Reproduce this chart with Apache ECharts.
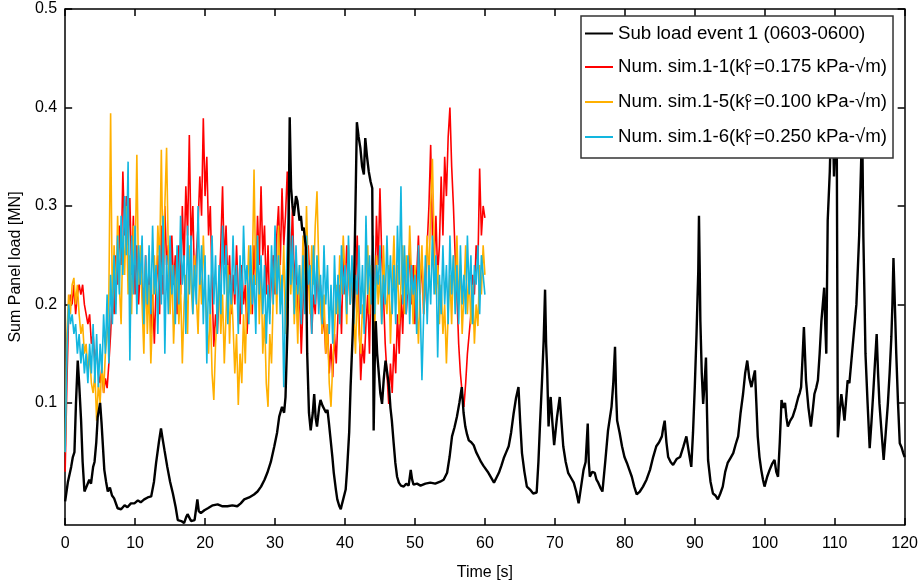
<!DOCTYPE html>
<html>
<head>
<meta charset="utf-8">
<title>Sum Panel load</title>
<script src="https://cdn.jsdelivr.net/npm/echarts@6.0.0/dist/echarts.min.js"></script>
<style>
  html, body { margin: 0; padding: 0; background: #fff; }
  #chart { width: 921px; height: 586px; }
</style>
</head>
<body>
<div id="chart"></div>
<script>
// measured sub load, time [s]
var loadTime = [
  0, 0.4, 0.86, 1.1, 1.33, 1.55, 1.8, 2.0, 2.28, 2.5, 2.76, 3.0, 3.2, 3.45, 3.7, 4.0, 4.2, 4.45, 4.66, 5.0,
  5.2, 5.6, 5.85, 6.1, 6.4, 6.7, 7.0, 7.5, 8.0, 8.5, 8.9, 9.4, 9.9, 10.4, 10.8, 11.3, 11.8, 12.3, 12.7, 13.0,
  13.4, 13.7, 13.9, 14.2, 14.6, 15.0, 15.4, 15.8, 16.1, 16.6, 17.0, 17.3, 17.5, 18.0, 18.5, 18.9, 19.1, 19.4, 19.9, 20.4,
  21.1, 21.8, 22.5, 23.2, 23.9, 24.6, 25.1, 25.6, 26.3, 27.0, 27.5, 28.0, 28.5, 28.9, 29.4, 29.9, 30.3, 30.6, 31.0, 31.3,
  31.5, 31.8, 32.1, 32.3, 32.5, 32.7, 33.0, 33.2, 33.5, 33.7, 33.9, 34.1, 34.4, 34.6, 34.85, 35.1, 35.4, 35.6, 35.8, 36.0,
  36.3, 36.5, 36.8, 37.0, 37.3, 37.5, 37.7, 37.9, 38.2, 38.4, 38.7, 38.9, 39.2, 39.4, 39.6, 39.8, 40.1, 40.3, 40.6, 40.8,
  41.1, 41.3, 41.5, 41.7, 41.95, 42.2, 42.45, 42.7, 42.9, 43.15, 43.4, 43.65, 43.9, 44.1, 44.25, 44.4, 44.6, 44.8, 45.05, 45.3,
  45.55, 45.8, 46.05, 46.3, 46.5, 46.7, 46.95, 47.2, 47.45, 47.7, 48.0, 48.4, 48.75, 49.1, 49.4, 49.6, 49.8, 50.3, 50.8, 51.5,
  52.2, 52.9, 53.6, 54.1, 54.6, 54.95, 55.3, 55.65, 56.0, 56.35, 56.7, 56.95, 57.2, 57.45, 57.7, 58.05, 58.4, 58.75, 59.1, 59.45,
  59.8, 60.5, 61.3, 61.65, 62.0, 62.35, 62.7, 63.05, 63.4, 63.75, 64.1, 64.45, 64.8, 65.05, 65.3, 65.65, 66.0, 66.45, 66.9, 67.4,
  67.65, 67.9, 68.15, 68.4, 68.6, 68.75, 68.9, 69.1, 69.25, 69.4, 69.65, 69.9, 70.3, 70.7, 70.95, 71.2, 71.55, 71.9, 72.3, 72.7,
  73.05, 73.4, 73.75, 74.1, 74.4, 74.7, 74.85, 75.0, 75.35, 75.7, 75.95, 76.2, 76.5, 76.8, 77.2, 77.6, 78.1, 78.35, 78.6, 78.75,
  78.9, 79.25, 79.6, 79.95, 80.3, 80.65, 81.0, 81.35, 81.7, 82.15, 82.6, 83.1, 83.6, 84.05, 84.5, 84.9, 85.3, 85.5, 85.7, 85.95,
  86.2, 86.55, 86.9, 87.4, 87.9, 88.35, 88.8, 89.15, 89.5, 89.75, 90.0, 90.25, 90.5, 90.6, 90.7, 90.8, 91.0, 91.2, 91.4, 91.6,
  91.75, 91.9, 92.25, 92.6, 92.95, 93.3, 93.65, 94.0, 94.35, 94.7, 95.1, 95.5, 95.85, 96.2, 96.55, 96.9, 97.2, 97.5, 97.8, 98.1,
  98.35, 98.6, 98.8, 99.0, 99.25, 99.5, 99.75, 99.97, 100.35, 100.7, 101.05, 101.4, 101.65, 101.9, 102.15, 102.4, 102.65, 102.9, 103.1, 103.3,
  103.65, 104.0, 104.4, 104.8, 105.0, 105.2, 105.4, 105.6, 105.75, 105.9, 106.25, 106.6, 106.85, 107.1, 107.35, 107.6, 107.85, 108.1, 108.3, 108.5,
  108.65, 108.8, 109.0, 109.3, 109.5, 109.7, 109.9, 110.1, 110.3, 110.45, 110.7, 110.95, 111.2, 111.4, 111.6, 111.85, 112.1, 112.6, 113.1, 113.5,
  113.8, 113.95, 114.1, 114.25, 114.4, 114.7, 115.0, 115.25, 115.5, 115.75, 116.0, 116.2, 116.4, 116.7, 117.0, 117.3, 117.6, 117.85, 118.1, 118.25,
  118.4, 118.6, 118.8, 119.05, 119.3, 119.55, 119.8, 120.0
];
// measured sub load [MN]
var loadValue = [
  0.0, 0.02, 0.035, 0.045, 0.05, 0.1, 0.143, 0.12, 0.082, 0.04, 0.01, 0.014, 0.012, 0.022, 0.018, 0.035, 0.04, 0.06, 0.086, 0.1,
  0.08, 0.032, 0.02, 0.01, 0.014, 0.006, 0.003, -0.007, -0.008, -0.004, -0.006, -0.002, -0.002, 0.001, -0.001, 0.002, 0.004, 0.005, 0.02, 0.039,
  0.06, 0.074, 0.065, 0.052, 0.035, 0.02, 0.008, -0.006, -0.019, -0.02, -0.022, -0.016, -0.013, -0.02, -0.019, 0.002, -0.01, -0.012, -0.009, -0.007,
  -0.004, -0.003, -0.005, -0.005, -0.004, -0.005, -0.002, 0.002, 0.004, 0.007, 0.01, 0.015, 0.022, 0.029, 0.04, 0.056, 0.07, 0.086, 0.096, 0.09,
  0.106, 0.18, 0.39, 0.318, 0.30, 0.29, 0.31, 0.305, 0.285, 0.29, 0.275, 0.278, 0.258, 0.15, 0.09, 0.072, 0.09, 0.109, 0.085, 0.076,
  0.095, 0.103, 0.097, 0.099, 0.09, 0.093, 0.08, 0.066, 0.045, 0.029, 0.012, 0.002, -0.005, -0.008, -0.002, -0.003, 0.012, 0.032, 0.07, 0.116,
  0.17, 0.217, 0.3, 0.385, 0.37, 0.359, 0.34, 0.332, 0.369, 0.35, 0.335, 0.325, 0.318, 0.072, 0.14, 0.183, 0.15, 0.133, 0.11, 0.099,
  0.125, 0.143, 0.13, 0.116, 0.095, 0.082, 0.06, 0.039, 0.025, 0.019, 0.016, 0.015, 0.018, 0.016, 0.032, 0.022, 0.017, 0.018, 0.016, 0.018,
  0.019, 0.018, 0.02, 0.022, 0.029, 0.045, 0.066, 0.075, 0.086, 0.1, 0.116, 0.09, 0.076, 0.068, 0.062, 0.06, 0.057, 0.05, 0.045, 0.04,
  0.036, 0.029, 0.019, 0.024, 0.029, 0.036, 0.044, 0.05, 0.056, 0.07, 0.089, 0.105, 0.116, 0.08, 0.049, 0.03, 0.015, 0.012, 0.008, 0.009,
  0.04, 0.082, 0.12, 0.163, 0.215, 0.16, 0.133, 0.076, 0.095, 0.106, 0.08, 0.057, 0.085, 0.106, 0.08, 0.056, 0.04, 0.029, 0.024, 0.019,
  0.01, -0.002, 0.015, 0.032, 0.04, 0.079, 0.04, 0.025, 0.03, 0.029, 0.022, 0.019, 0.014, 0.01, 0.04, 0.072, 0.096, 0.12, 0.157, 0.11,
  0.082, 0.07, 0.056, 0.045, 0.039, 0.032, 0.025, 0.015, 0.007, 0.01, 0.015, 0.022, 0.032, 0.045, 0.056, 0.06, 0.066, 0.075, 0.082, 0.06,
  0.045, 0.04, 0.037, 0.043, 0.045, 0.055, 0.066, 0.05, 0.035, 0.07, 0.116, 0.17, 0.234, 0.29, 0.24, 0.183, 0.13, 0.099, 0.12, 0.146,
  0.09, 0.042, 0.02, 0.008, 0.006, 0.002, 0.008, 0.015, 0.03, 0.039, 0.044, 0.049, 0.058, 0.066, 0.09, 0.109, 0.13, 0.143, 0.125, 0.116,
  0.125, 0.133, 0.1, 0.066, 0.045, 0.032, 0.022, 0.015, 0.025, 0.032, 0.038, 0.042, 0.03, 0.025, 0.06, 0.103, 0.095, 0.1, 0.085, 0.076,
  0.082, 0.086, 0.095, 0.106, 0.11, 0.116, 0.145, 0.177, 0.15, 0.123, 0.095, 0.076, 0.092, 0.109, 0.115, 0.123, 0.15, 0.183, 0.2, 0.217,
  0.18, 0.15, 0.285, 0.335, 0.39, 0.40, 0.33, 0.37, 0.36, 0.065, 0.09, 0.109, 0.095, 0.082, 0.1, 0.123, 0.12, 0.16, 0.2, 0.27,
  0.35, 0.37, 0.268, 0.21, 0.15, 0.1, 0.054, 0.08, 0.109, 0.14, 0.17, 0.13, 0.099, 0.07, 0.042, 0.07, 0.099, 0.13, 0.167, 0.2,
  0.247, 0.2, 0.15, 0.1, 0.059, 0.055, 0.049, 0.045
];

// simulations, one value every 0.25 s from 0 to 60 s [MN]
var simStep = 0.25;
var sim11 = [
  0.03, 0.12, 0.19, 0.21,  0.20, 0.22, 0.19, 0.21,  0.22, 0.21, 0.22, 0.20,  0.20, 0.18, 0.19, 0.16,
  0.17, 0.14, 0.155, 0.13,  0.12, 0.135, 0.11, 0.125,  0.115, 0.14, 0.17, 0.21,  0.19, 0.25, 0.22, 0.28,
  0.24, 0.335, 0.27, 0.31,  0.26, 0.308, 0.23, 0.29,  0.21, 0.26, 0.20, 0.24,  0.22, 0.18, 0.25, 0.19,
  0.23, 0.17, 0.21, 0.16,  0.22, 0.25, 0.19, 0.28,  0.21, 0.30, 0.24, 0.26,  0.20, 0.27, 0.22, 0.25,
  0.19, 0.26, 0.21, 0.30,  0.24, 0.32, 0.27, 0.372,  0.26, 0.30, 0.22, 0.25,  0.28, 0.33, 0.29, 0.389,
  0.31, 0.35, 0.27, 0.30,  0.22, 0.157, 0.19, 0.17,  0.21, 0.26, 0.32, 0.24,  0.28, 0.22, 0.25, 0.19,
  0.23, 0.20, 0.26, 0.21,  0.18, 0.24, 0.20, 0.22,  0.17, 0.21, 0.24, 0.19,  0.26, 0.22, 0.29, 0.24,
  0.32, 0.25, 0.28, 0.21,  0.26, 0.19, 0.23, 0.25,  0.21, 0.27, 0.30, 0.24,  0.318, 0.26, 0.29, 0.335,
  0.28, 0.24, 0.30, 0.22,  0.25, 0.18, 0.22, 0.15,  0.20, 0.24, 0.19, 0.26,  0.22, 0.17, 0.21, 0.19,
  0.24, 0.20, 0.22, 0.17,  0.19, 0.15, 0.18, 0.13,  0.16, 0.126, 0.17, 0.14,  0.19, 0.22, 0.17, 0.25,
  0.21, 0.26, 0.23, 0.20,  0.24, 0.18, 0.22, 0.27,  0.19, 0.123, 0.16, 0.14,  0.18, 0.21, 0.15, 0.23,
  0.26, 0.20, 0.29, 0.24,  0.318, 0.25, 0.21, 0.16,  0.13, 0.099, 0.14, 0.11,  0.16, 0.13, 0.19, 0.15,
  0.21, 0.17, 0.23, 0.19,  0.22, 0.26, 0.20, 0.24,  0.18, 0.23, 0.27, 0.21,  0.25, 0.19, 0.22, 0.26,
  0.30, 0.362, 0.27, 0.24,  0.29, 0.23, 0.26, 0.33,  0.27, 0.35, 0.31, 0.37,  0.40, 0.34, 0.30, 0.25,
  0.21, 0.16, 0.13, 0.11,  0.096, 0.12, 0.15, 0.17,  0.19, 0.23, 0.21, 0.26,  0.24, 0.338, 0.27, 0.30,
  0.288
];
var sim15 = [
  0.05, 0.17, 0.21, 0.19,  0.22, 0.227, 0.20, 0.22,  0.19, 0.17, 0.18, 0.15,  0.16, 0.13, 0.15, 0.12,
  0.11, 0.13, 0.082, 0.12,  0.10, 0.14, 0.11, 0.15,  0.17, 0.21, 0.394, 0.19,  0.26, 0.20, 0.29, 0.22,
  0.18, 0.27, 0.23, 0.30,  0.21, 0.25, 0.19, 0.28,  0.24, 0.352, 0.22, 0.26,  0.20, 0.15, 0.24, 0.17,
  0.22, 0.14, 0.19, 0.25,  0.21, 0.28, 0.24, 0.357,  0.23, 0.30, 0.359, 0.25,  0.19, 0.24, 0.16, 0.21,
  0.25, 0.18, 0.22, 0.14,  0.20, 0.23, 0.17, 0.26,  0.22, 0.19, 0.25, 0.21,  0.17, 0.24, 0.20, 0.27,
  0.22, 0.18, 0.15, 0.20,  0.13, 0.103, 0.16, 0.19,  0.23, 0.17, 0.21, 0.14,  0.19, 0.24, 0.16, 0.22,
  0.18, 0.13, 0.17, 0.098,  0.15, 0.12, 0.19, 0.14,  0.21, 0.26, 0.19, 0.23,  0.337, 0.22, 0.27, 0.18,
  0.24, 0.15, 0.19, 0.12,  0.096, 0.17, 0.14, 0.21,  0.25, 0.19, 0.28, 0.22,  0.20, 0.26, 0.17, 0.23,
  0.29, 0.21, 0.25, 0.18,  0.22, 0.16, 0.24, 0.19,  0.27, 0.21, 0.30, 0.23,  0.19, 0.26, 0.22, 0.28,
  0.315, 0.24, 0.20, 0.17,  0.21, 0.15, 0.18, 0.12,  0.096, 0.14, 0.17, 0.22,  0.19, 0.25, 0.21, 0.27,
  0.23, 0.18, 0.26, 0.20,  0.24, 0.19, 0.15, 0.22,  0.17, 0.15, 0.20, 0.18,  0.23, 0.26, 0.19, 0.24,
  0.21, 0.17, 0.25, 0.20,  0.23, 0.18, 0.26, 0.21,  0.19, 0.24, 0.16, 0.22,  0.27, 0.20, 0.24, 0.18,
  0.22, 0.26, 0.19, 0.25,  0.21, 0.28, 0.23, 0.18,  0.24, 0.20, 0.16, 0.22,  0.26, 0.19, 0.23, 0.27,
  0.22, 0.30, 0.348, 0.26,  0.21, 0.24, 0.18, 0.22,  0.17, 0.20, 0.14, 0.19,  0.23, 0.18, 0.25, 0.21,
  0.27, 0.20, 0.24, 0.17,  0.21, 0.26, 0.19, 0.23,  0.18, 0.22, 0.16, 0.20,  0.178, 0.24, 0.21, 0.26,
  0.23
];
var sim16 = [
  0.05, 0.15, 0.20, 0.18,  0.19, 0.17, 0.18, 0.15,  0.17, 0.14, 0.16, 0.13,  0.15, 0.12, 0.16, 0.13,
  0.18, 0.12, 0.17, 0.116,  0.16, 0.13, 0.19, 0.15,  0.21, 0.14, 0.23, 0.18,  0.25, 0.19, 0.27, 0.21,
  0.29, 0.23, 0.31, 0.25,  0.345, 0.143, 0.27, 0.21,  0.28, 0.19, 0.26, 0.22,  0.27, 0.18, 0.25, 0.20,
  0.26, 0.19, 0.28, 0.21,  0.24, 0.17, 0.26, 0.20,  0.29, 0.15, 0.25, 0.19,  0.27, 0.21, 0.24, 0.18,
  0.26, 0.20, 0.29, 0.22,  0.25, 0.17, 0.28, 0.21,  0.27, 0.19, 0.24, 0.20,  0.30, 0.22, 0.26, 0.18,
  0.25, 0.14, 0.23, 0.19,  0.27, 0.20, 0.25, 0.17,  0.24, 0.19, 0.28, 0.21,  0.26, 0.18, 0.23, 0.20,
  0.27, 0.21, 0.24, 0.17,  0.25, 0.19, 0.28, 0.22,  0.24, 0.18, 0.26, 0.20,  0.23, 0.17, 0.27, 0.21,
  0.25, 0.19, 0.24, 0.16,  0.22, 0.18, 0.26, 0.20,  0.28, 0.21, 0.25, 0.19,  0.23, 0.116, 0.20, 0.26,
  0.31, 0.22, 0.27, 0.19,  0.26, 0.21, 0.24, 0.18,  0.25, 0.19, 0.27, 0.22,  0.24, 0.17, 0.26, 0.20,
  0.25, 0.19, 0.23, 0.18,  0.26, 0.20, 0.24, 0.17,  0.22, 0.16, 0.25, 0.19,  0.23, 0.18, 0.26, 0.21,
  0.24, 0.19, 0.27, 0.20,  0.25, 0.18, 0.23, 0.21,  0.26, 0.19, 0.24, 0.17,  0.29, 0.21, 0.25, 0.20,
  0.27, 0.19, 0.24, 0.22,  0.26, 0.18, 0.23, 0.20,  0.27, 0.21, 0.25, 0.19,  0.24, 0.18, 0.28, 0.22,
  0.32, 0.20, 0.26, 0.19,  0.25, 0.18, 0.24, 0.21,  0.23, 0.17, 0.26, 0.20,  0.123, 0.19, 0.25, 0.18,
  0.24, 0.20, 0.27, 0.21,  0.25, 0.146, 0.23, 0.19,  0.26, 0.20, 0.24, 0.18,  0.27, 0.21, 0.25, 0.19,
  0.24, 0.18, 0.26, 0.20,  0.23, 0.19, 0.27, 0.21,  0.25, 0.18, 0.24, 0.22,  0.26, 0.19, 0.25, 0.23,
  0.21
];

var loadName = 'Sub load event 1 (0603-0600)';
var simNames = ['Num. sim.1-1', 'Num. sim.1-5', 'Num. sim.1-6'];
var simK = ['0.175', '0.100', '0.250'];
var simColors = ['#ff0000', '#ffb000', '#12b6df'];
var yTicks = [0.1, 0.2, 0.3, 0.4, 0.5];

var font = "'Liberation Sans', Arial, sans-serif";

function zip(t, v) {
    return v.map(function (y, i) { return [t[i], y]; });
}
function simData(v) {
    return v.map(function (y, i) { return [i * simStep, y]; });
}

var chart = echarts.init(document.getElementById('chart'));

var axisLine = { show: true, onZero: false, lineStyle: { color: '#000', width: 1.5 } };
var tickIn = { show: true, inside: true, length: 7, lineStyle: { color: '#000', width: 1.5 } };

var series = [{
    name: loadName, type: 'line', z: 4,
    data: zip(loadTime, loadValue),
    showSymbol: false, symbol: 'none',
    lineStyle: { color: '#000', width: 2.4 },
    itemStyle: { color: '#000' }
}];
[sim11, sim15, sim16].forEach(function (arr, i) {
    series.push({
        name: simNames[i], type: 'line', z: 2,
        data: simData(arr),
        showSymbol: false, symbol: 'none',
        lineStyle: { color: simColors[i], width: 1.6 },
        itemStyle: { color: simColors[i] }
    });
});

chart.setOption({
    animation: false,
    backgroundColor: '#fff',
    textStyle: { fontFamily: font },
    grid: { left: 64, right: 16, top: 9, bottom: 58 },
    legend: {
        orient: 'vertical',
        left: 581, top: 16,
        data: [loadName].concat(simNames),
        icon: 'rect', itemWidth: 28, itemHeight: 2, itemGap: 13,
        backgroundColor: '#fff',
        borderColor: '#333', borderWidth: 1.5, borderRadius: 0,
        padding: [8, 6, 10, 4],
        z: 10,
        formatter: function (name) {
            var i = simNames.indexOf(name);
            if (i < 0) return '{n|' + name + '}';
            return '{n|' + name + '(k}{sup|c}{sub|l}{n|=' + simK[i] + ' kPa-\u221Am)}';
        },
        textStyle: {
            color: '#000', fontFamily: font, fontSize: 18.7,
            rich: {
                n: { fontFamily: font, fontSize: 18.7, lineHeight: 22, color: '#000' },
                sup: { fontFamily: font, fontSize: 14, lineHeight: 4, width: 1, verticalAlign: 'top', color: '#000' },
                sub: { fontFamily: font, fontSize: 14, lineHeight: 8, width: 8, verticalAlign: 'bottom', color: '#000' }
            }
        }
    },
    xAxis: [{
        type: 'value', position: 'bottom', min: 0, max: 120, interval: 10,
        name: 'Time [s]', nameLocation: 'middle', nameGap: 40,
        nameTextStyle: { color: '#000', fontSize: 16, fontFamily: font },
        axisLine: axisLine, axisTick: tickIn,
        axisLabel: { color: '#000', fontSize: 16, margin: 11, fontFamily: font },
        splitLine: { show: false }
    }, {
        type: 'value', position: 'top', min: 0, max: 120, interval: 10,
        axisLine: axisLine, axisTick: tickIn,
        axisLabel: { show: false }, splitLine: { show: false }
    }],
    yAxis: [{
        type: 'value', position: 'left', min: -0.024, max: 0.5,
        name: 'Sum Panel load [MN]', nameLocation: 'middle', nameGap: 37,
        nameTextStyle: { color: '#000', fontSize: 16, fontFamily: font },
        axisLine: axisLine,
        axisTick: { show: true, inside: true, length: 7, lineStyle: { color: '#000', width: 1.5 }, customValues: yTicks },
        axisLabel: {
            color: '#000', fontSize: 16, margin: 8, fontFamily: font, customValues: yTicks,
            formatter: function (v) { return v.toFixed(1); }
        },
        splitLine: { show: false }
    }, {
        type: 'value', position: 'right', min: -0.024, max: 0.5,
        axisLine: axisLine,
        axisTick: { show: true, inside: true, length: 7, lineStyle: { color: '#000', width: 1.5 }, customValues: yTicks },
        axisLabel: { show: false, customValues: yTicks },
        splitLine: { show: false }
    }],
    series: series
});
</script>
</body>
</html>
